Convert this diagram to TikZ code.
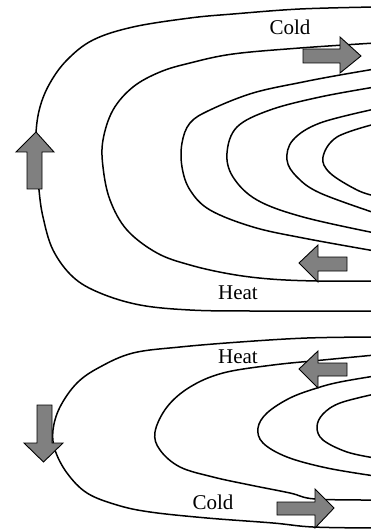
\documentclass[tikz,border=0pt]{standalone}
\usepackage{fontspec}
\setmainfont{Liberation Serif}
\begin{document}
\begin{tikzpicture}[x=1pt,y=-1pt,
  curve/.style={line width=1.5pt, line join=round},
  blockarrow/.style={fill=black!50, draw=black, line width=0.9pt, line join=miter},
  lbl/.style={inner sep=0pt, font=\fontsize{21}{23}\selectfont}]
\useasboundingbox (0,0) rectangle (371,529);
\begin{scope}
\clip (0,0) rectangle (371,529);
% ---------- top diagram ----------
\draw[curve] plot[smooth, tension=0.6] coordinates {(375,7) (300,9) (233,14) (190,18) (133,27) (93,40) (67,60) (50,83) (40,107) (36,133) (37,160) (39,190) (43,217) (53,250) (73,277) (100,293) (140,305) (190,310) (250,311) (375,311)};
\draw[curve] plot[smooth, tension=0.6] coordinates {(375,43) (300,48) (233,54) (190,63) (160,72) (133,87) (113,110) (103,140) (103,167) (110,200) (127,230) (157,253) (190,265) (230,274) (270,279) (317,281) (375,281)};
\draw[curve] plot[smooth, tension=0.6] coordinates {(375,69) (340,75) (303,82) (253,93) (210,110) (190,123) (182,143) (182,167) (190,190) (210,210) (253,227) (303,238) (375,251)};
\draw[curve] plot[smooth, tension=0.6] coordinates {(375,87) (320,97) (270,110) (237,127) (227,153) (233,177) (257,200) (303,217) (375,233)};
\draw[curve] plot[smooth, tension=0.6] coordinates {(375,109) (320,123) (293,140) (287,160) (297,177) (320,193) (375,213)};
\draw[curve] plot[smooth, tension=0.6] coordinates {(375,124) (337,137) (323,157) (330,173) (357,190) (375,196)};
% ---------- bottom diagram ----------
\draw[curve] plot[smooth, tension=0.6] coordinates {(375,337) (307,338) (240,342) (180,347) (133,353) (100,367) (77,383) (60,407) (53,430) (55,450) (67,473) (87,493) (117,505) (150,512) (207,518) (273,523) (313,527) (375,528)};
\draw[curve] plot[smooth, tension=0.6] coordinates {(375,355) (323,360) (273,365) (223,373) (190,387) (167,407) (155,432) (160,450) (180,467) (213,477) (250,485) (290,493) (315,499) (375,500)};
\draw[curve] plot[smooth, tension=0.6] coordinates {(375,376) (340,382) (317,388) (290,398) (267,413) (258,428) (263,443) (287,457) (327,468) (375,476)};
\draw[curve] plot[smooth, tension=0.6] coordinates {(375,394) (340,403) (323,414) (317,427) (323,440) (347,452) (375,458)};
\end{scope}
% ---------- block arrows ----------
\draw[blockarrow] (303,49) -- (340,49) -- (340,37) -- (361,56) -- (340,73) -- (340,63) -- (303,63) -- cycle;
\draw[blockarrow] (347,257) -- (318,257) -- (318,245) -- (299,263) -- (318,282) -- (318,271) -- (347,271) -- cycle;
\draw[blockarrow] (27,189) -- (27,152) -- (16,152) -- (36,132) -- (54,152) -- (42,152) -- (42,189) -- cycle;
\draw[blockarrow] (347,363) -- (318,363) -- (318,351) -- (299,369) -- (318,388) -- (318,376) -- (347,376) -- cycle;
\draw[blockarrow] (37,405) -- (52,405) -- (52,443) -- (63,443) -- (43.5,462) -- (24,443) -- (37,443) -- cycle;
\draw[blockarrow] (277,502) -- (315,502) -- (315,489) -- (334,508) -- (315,528) -- (315,515) -- (277,515) -- cycle;
% ---------- labels ----------
\node[lbl] (coldtop) at (290,27) {Cold};
\node[lbl] (heattop) at (238,293) {Heat};
\node[lbl] (heatbot) at (238,357) {Heat};
\node[lbl] (coldbot) at (213,502) {Cold};
\end{tikzpicture}
\end{document}
